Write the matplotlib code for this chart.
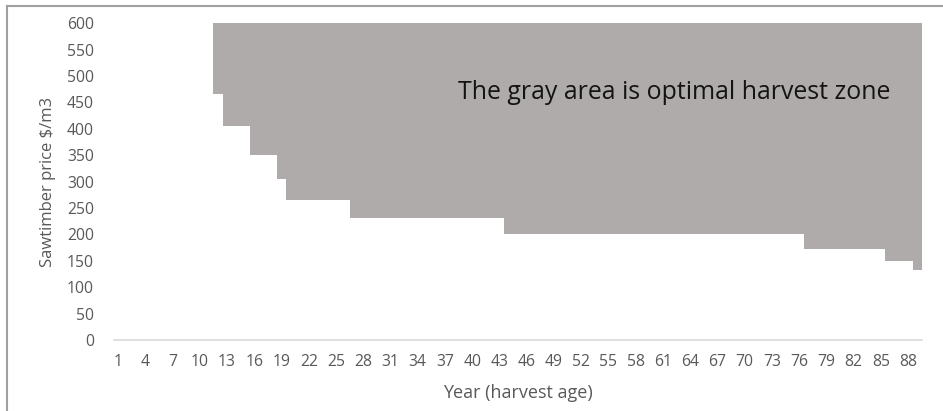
import numpy as np
import matplotlib.pyplot as plt
from matplotlib.lines import Line2D

plt.rcParams['font.family'] = ['Open Sans', 'DejaVu Sans']

years = np.arange(1, 90)

# lowest price at which harvesting is optimal (None = never optimal)
threshold = [None, None, None, None, None, None, None, None, None, None, None,
             467,
             406, 406, 406,
             350, 350, 350,
             305,
             265, 265, 265, 265, 265, 265, 265,
             232, 232, 232, 232, 232, 232, 232, 232, 232, 232, 232, 232, 232, 232, 232, 232, 232,
             200, 200, 200, 200, 200, 200, 200, 200, 200, 200, 200, 200, 200, 200, 200, 200, 200,
             200, 200, 200, 200, 200, 200, 200, 200, 200, 200, 200, 200, 200, 200, 200, 200,
             173, 173, 173, 173, 173, 173, 173, 173, 173,
             150, 150, 150,
             133]
price_max = 600

lower = np.array([np.nan if v is None else v for v in threshold], dtype=float)
upper = price_max - lower

fig = plt.figure(figsize=(9.43, 4.11), dpi=100)
ax = fig.add_axes([0.1204, 0.1727, 0.857, 0.7706])

ax.bar(years, upper, bottom=lower, width=1.0, color='#AFABAB', linewidth=0)

ax.set_xlim(0.5, 89.5)
ax.set_ylim(0, 600)
ax.set_xticks(years[::3])
ax.set_yticks(np.arange(0, 650, 50))

for s in ['top', 'right', 'left']:
    ax.spines[s].set_visible(False)
ax.spines['bottom'].set_color('#D9D9D9')
ax.spines['bottom'].set_linewidth(1.2)
ax.tick_params(length=0, labelcolor='#595959', labelsize=11.3)
ax.tick_params(axis='y', pad=14)
ax.tick_params(axis='x', pad=10)

ax.set_xlabel('Year (harvest age)', color='#595959', fontsize=13, labelpad=10)
ax.set_ylabel('Sawtimber price $/m3', color='#595959', fontsize=12, labelpad=8)

ax.text(0.4263, 0.78, 'The gray area is optimal harvest zone', transform=ax.transAxes,
        fontsize=17.9, color='#141414', va='center', ha='left')

# chart border
fig.add_artist(Line2D([7 / 943, 1.0], [1 - 6.5 / 411] * 2, transform=fig.transFigure,
                      color='#A0A0A0', linewidth=1.5))
fig.add_artist(Line2D([7 / 943] * 2, [0.0, 1 - 6.5 / 411], transform=fig.transFigure,
                      color='#A0A0A0', linewidth=1.5))

fig.savefig('out.png', dpi=100)
